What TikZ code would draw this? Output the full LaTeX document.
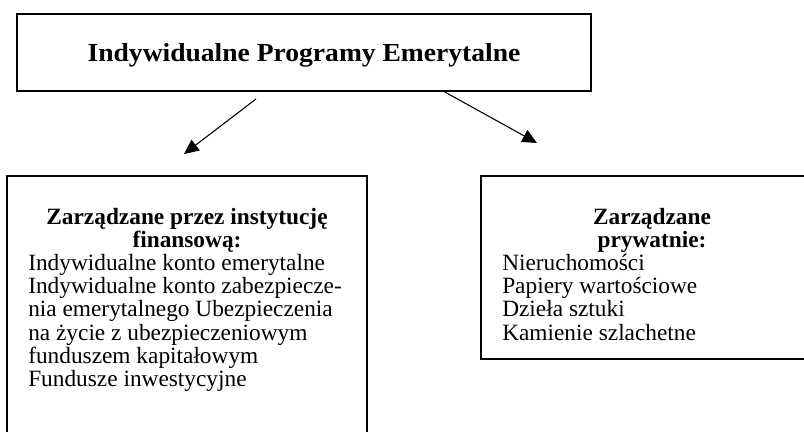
\documentclass[tikz,border=0pt]{standalone}
\usepackage{fontspec}
\setmainfont{Liberation Serif}
\newfontfamily\titlefont[FakeStretch=1.06]{Liberation Serif}
\usetikzlibrary{arrows.meta}
\begin{document}
\begin{tikzpicture}[x=0.75pt,y=-0.75pt,
  box/.style={draw, line width=1.4pt, inner sep=0pt},
  link/.style={line width=0.8pt, -{Triangle[length=11pt,width=10pt]}},
  body/.style={font=\fontsize{17.5}{17.5}\selectfont, inner sep=0pt, anchor=base west},
  head/.style={font=\bfseries\fontsize{17.5}{17.5}\selectfont, inner sep=0pt, anchor=base}]
\clip (0,0) rectangle (804,432);
\fill[white] (0,0) rectangle (804,432);

% boxes
\node[box, minimum width=430.5pt, minimum height=57.75pt] (ipe) at (304,52.5) {};
\node[box, minimum width=270pt, minimum height=216pt] (inst) at (187,320) {};
\node[box, minimum width=256.5pt, minimum height=137.25pt] (priv) at (652,267.5) {};

% title
\node[inner sep=0pt, anchor=base, font=\titlefont\bfseries\fontsize{19.5}{19.5}\selectfont] (title) at (304,61.7) {Indywidualne Programy Emerytalne};

% left box text
\node[head] (h1) at (187,224) {Zarządzane przez instytucję};
\node[head] (h2) at (187,247) {finansową:};
\node[body] (b1) at (28,270) {Indywidualne konto emerytalne};
\node[body] (b2) at (28,293) {Indywidualne konto zabezpiecze-};
\node[body] (b3) at (28,316) {nia emerytalnego Ubezpieczenia};
\node[body] (b4) at (28,340) {na życie z ubezpieczeniowym};
\node[body] (b5) at (28,363) {funduszem kapitałowym};
\node[body] (b6) at (28,386) {Fundusze inwestycyjne};

% right box text
\node[head] (p1) at (652,224) {Zarządzane};
\node[head] (p2) at (652,247) {prywatnie:};
\node[body] (c1) at (502,270) {Nieruchomości};
\node[body] (c2) at (502,293) {Papiery wartościowe};
\node[body] (c3) at (502,316) {Dzieła sztuki};
\node[body] (c4) at (502,340) {Kamienie szlachetne};

% connectors
\coordinate (la) at (256,99);
\coordinate (lb) at (184,154);
\coordinate (ra) at (443,91);
\coordinate (rb) at (537,143);
\draw[link] (la) -- (lb);
\draw[link] (ra) -- (rb);
\end{tikzpicture}
\end{document}
